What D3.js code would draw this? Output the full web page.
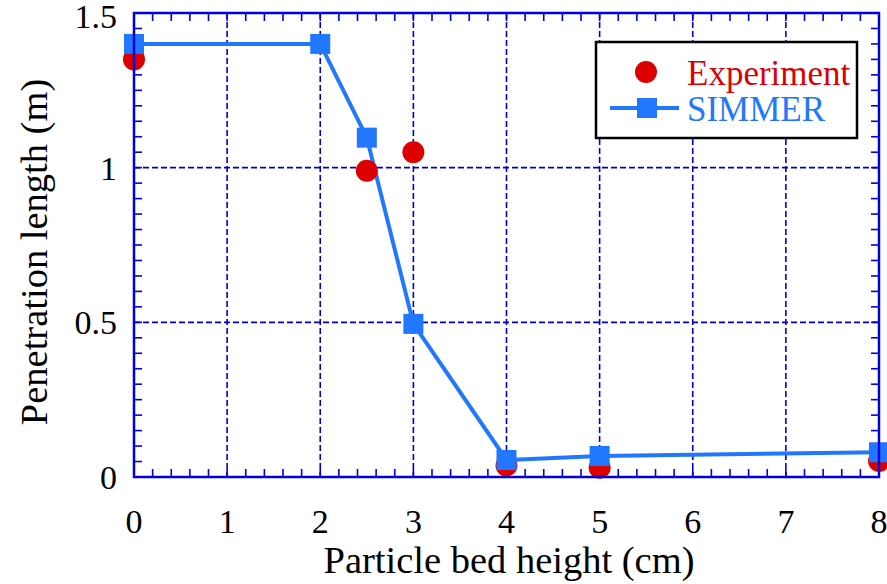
<!DOCTYPE html>
<html><head><meta charset="utf-8">
<script src="https://cdn.jsdelivr.net/npm/d3@7"></script>
</head><body style="margin:0">
<svg id="c" width="887" height="584"></svg>
<script>
const xTicks = [0,1,2,3,4,5,6,7,8];
const yTicks = [0,0.5,1,1.5];
const yTickLabels = ["0","0.5","1","1.5"];
const expX = [0,2.5,3,4,5,8];
const expY = [1.35,0.99,1.05,0.037,0.03,0.052];
const simX = [0,2,2.5,3,4,5,8];
const simY = [1.4,1.4,1.097,0.495,0.055,0.068,0.08];
const seriesNames = ["Experiment","SIMMER"];

const svg = d3.select("#c");
const L=134, R=879, T=13, B=477;
const x = d3.scaleLinear().domain([0,8]).range([L,R]);
const y = d3.scaleLinear().domain([0,1.5]).range([B,T]);
const frameC = "#0000dd", gridC="#0000cc", red="#dd0000", blue="#2277ff";
function txt(sel){ return sel.attr("font-family","Times New Roman").style("font-family","Times New Roman"); }

// grid
const g = svg.append("g");
g.selectAll(".gx").data(xTicks.slice(1,-1)).join("line")
 .attr("x1",d=>x(d)).attr("x2",d=>x(d)).attr("y1",T).attr("y2",B)
 .attr("stroke",gridC).attr("stroke-width",1.6).attr("stroke-dasharray","6,3");
g.selectAll(".gy").data(yTicks.slice(1,-1)).join("line")
 .attr("y1",d=>y(d)).attr("y2",d=>y(d)).attr("x1",L).attr("x2",R)
 .attr("stroke",gridC).attr("stroke-width",1.6).attr("stroke-dasharray","6,3");

// minor ticks
const xMinor = d3.range(0,8.0001,0.2);
const yMinor = d3.range(0,1.5001,0.05);
const tk = svg.append("g").attr("stroke",frameC).attr("stroke-width",1.6);
tk.selectAll(".xb").data(xMinor).join("line").attr("x1",d=>x(d)).attr("x2",d=>x(d)).attr("y1",B).attr("y2",B-8);
tk.selectAll(".xt").data(xMinor).join("line").attr("x1",d=>x(d)).attr("x2",d=>x(d)).attr("y1",T).attr("y2",T+8);
tk.selectAll(".yl").data(yMinor).join("line").attr("y1",d=>y(d)).attr("y2",d=>y(d)).attr("x1",L).attr("x2",L+8);
tk.selectAll(".yr").data(yMinor).join("line").attr("y1",d=>y(d)).attr("y2",d=>y(d)).attr("x1",R).attr("x2",R-8);

// series
const line = d3.line().x((d,i)=>x(simX[i])).y(d=>y(d));
svg.append("path").datum(simY).attr("d",line).attr("fill","none").attr("stroke",blue).attr("stroke-width",4);
svg.selectAll(".exp").data(expY).join("circle").attr("cx",(d,i)=>x(expX[i])).attr("cy",d=>y(d)).attr("r",11).attr("fill",red);
svg.selectAll(".sim").data(simY).join("rect").attr("x",(d,i)=>x(simX[i])-10).attr("y",d=>y(d)-10).attr("width",20).attr("height",20).attr("fill",blue);

// frame
svg.append("rect").attr("x",L).attr("y",T).attr("width",R-L).attr("height",B-T).attr("fill","none").attr("stroke",frameC).attr("stroke-width",2.5);

// tick labels
txt(svg.selectAll(".xl").data(xTicks).join("text")).attr("x",d=>x(d)).attr("y",533).attr("text-anchor","middle").attr("font-size",34).attr("fill","#000").text(d=>String(d));
txt(svg.selectAll(".ylab").data(yTicks).join("text")).attr("x",117).attr("y",d=>Math.max(28,y(d)+12)).attr("text-anchor","end").attr("font-size",34).attr("fill","#000").text((d,i)=>yTickLabels[i]);

// axis titles
txt(svg.append("text")).attr("x",509).attr("y",573).attr("text-anchor","middle").attr("font-size",38.5).text("Particle bed height (cm)");
txt(svg.append("text")).attr("transform","translate(47,252) rotate(-90)").attr("text-anchor","middle").attr("font-size",38.5).text("Penetration length (m)");

// legend
const lg = svg.append("g");
lg.append("rect").attr("x",596).attr("y",42).attr("width",261).attr("height",96).attr("fill","#fff").attr("stroke","#000").attr("stroke-width",2.5);
lg.append("circle").attr("cx",646).attr("cy",72).attr("r",11).attr("fill",red);
lg.append("line").attr("x1",610).attr("x2",679).attr("y1",108).attr("y2",108).attr("stroke",blue).attr("stroke-width",4);
lg.append("rect").attr("x",637).attr("y",98).attr("width",20).attr("height",20).attr("fill",blue);
txt(lg.append("text")).attr("x",687).attr("y",85).attr("font-size",35).attr("fill",red).text(seriesNames[0]);
txt(lg.append("text")).attr("x",687).attr("y",121).attr("font-size",35).attr("fill",blue).text(seriesNames[1]);
</script>
</body></html>
